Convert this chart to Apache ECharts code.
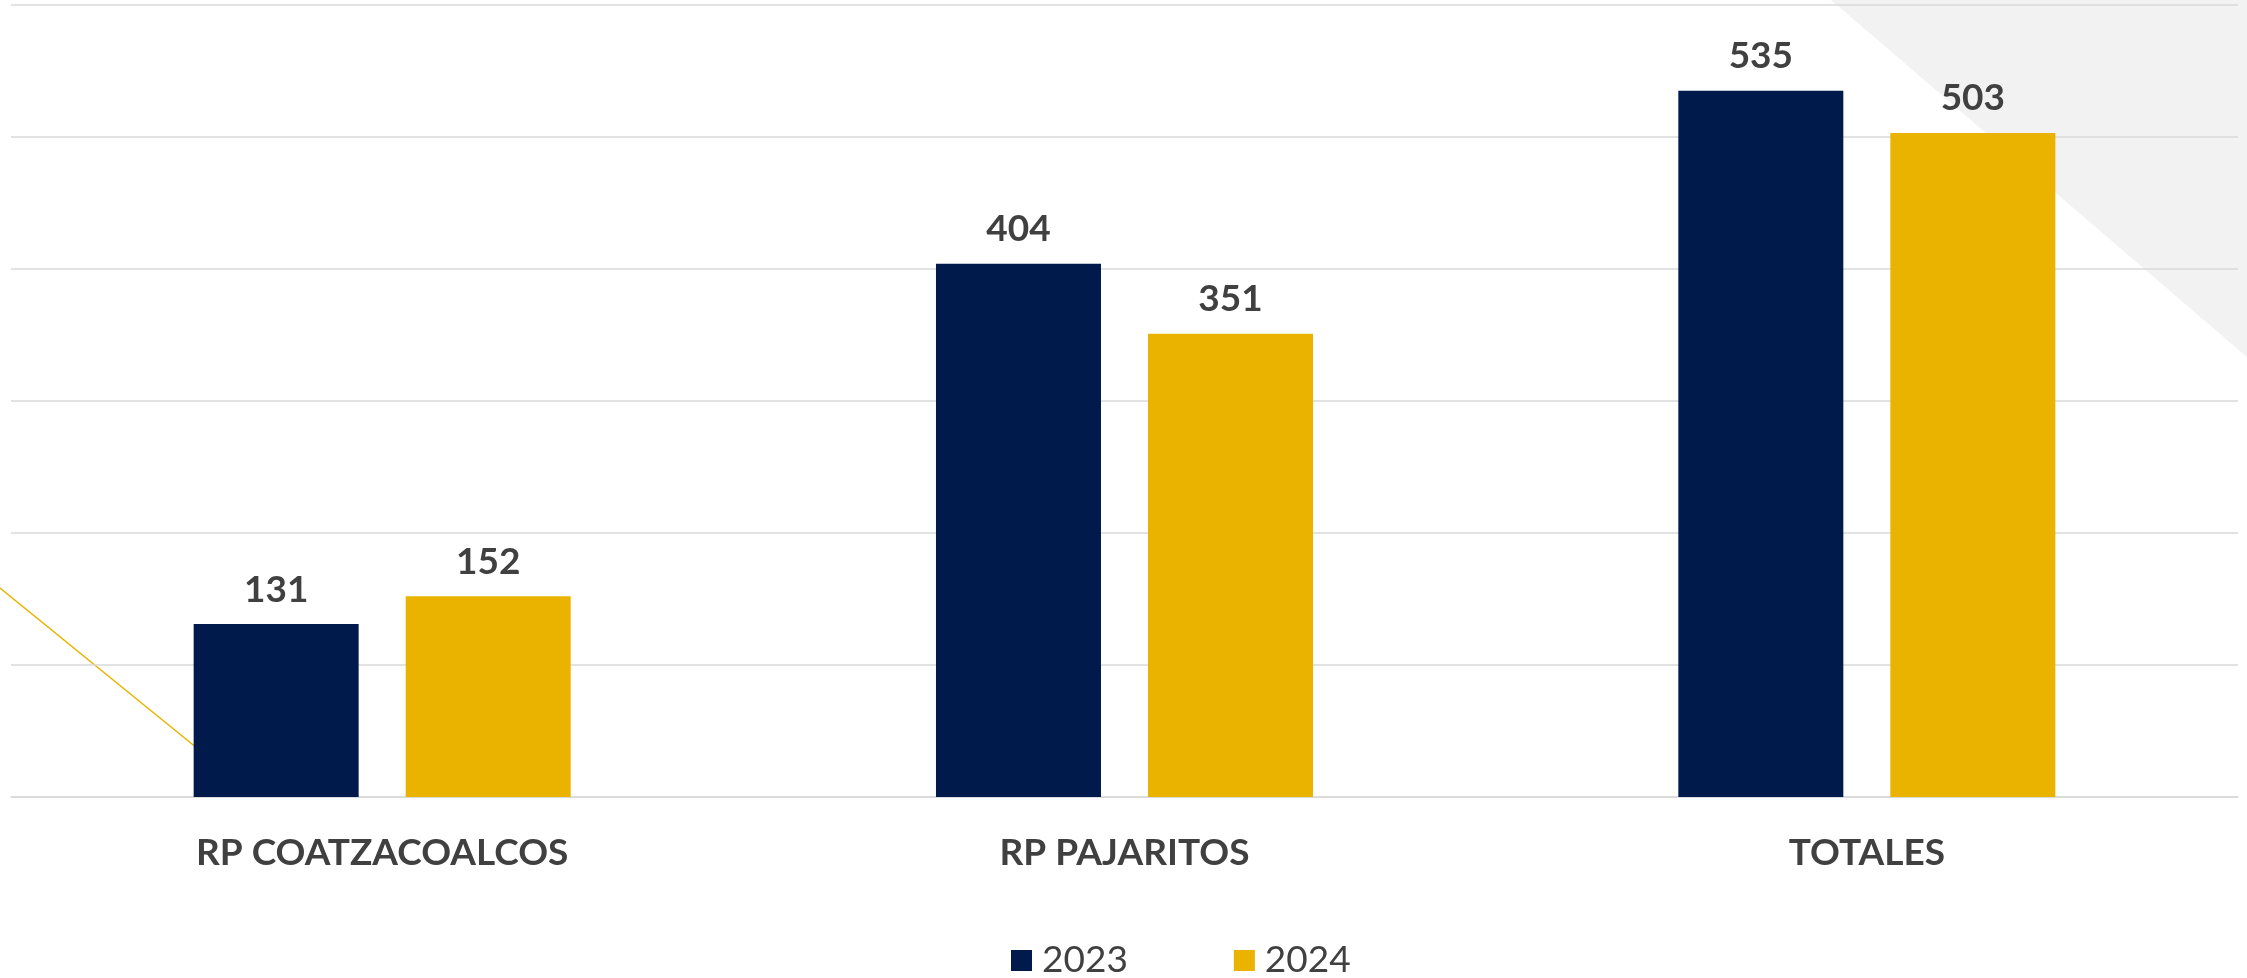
<!DOCTYPE html>
<html>
<head>
<meta charset="utf-8">
<script src="https://cdn.jsdelivr.net/npm/echarts@6/dist/echarts.min.js"></script>
<style>html,body{margin:0;padding:0;background:#fff}#c{width:2247px;height:978px}</style>
</head>
<body>
<div id="c"></div>
<script>
const categories = ['RP COATZACOALCOS', 'RP PAJARITOS', 'TOTALES'];
const seriesNames = ['2023', '2024'];
const values2023 = [131, 404, 535];
const values2024 = [152, 351, 503];

const chart = echarts.init(document.getElementById('c'));
const labelStyle = {
  show: true, position: 'top', distance: 16,
  color: '#404040', fontFamily: 'Lato', fontWeight: 'bold', fontSize: 37
};
chart.setOption({
  backgroundColor: '#ffffff',
  animation: false,
  graphic: [
    { type: 'polygon', z: -10, silent: true,
      shape: { points: [[1831, 0], [2247, 0], [2247, 357]] },
      style: { fill: '#f2f2f2' } },
    { type: 'line', z: -10, silent: true,
      shape: { x1: 0, y1: 588, x2: 240, y2: 783 },
      style: { stroke: '#e8b400', lineWidth: 1.5 } }
  ],
  grid: { left: 11, right: 9, top: 5, bottom: 181, containLabel: false },
  legend: {
    data: seriesNames,
    left: 1006, top: 937,
    itemWidth: 21, itemHeight: 21, itemGap: 106,
    icon: 'rect',
    textStyle: { color: '#404040', fontFamily: 'Lato', fontSize: 37, padding: [0, 0, 0, 5] }
  },
  xAxis: {
    type: 'category', data: categories,
    axisLine: { show: true, lineStyle: { color: '#d9d9d9', width: 1.5 } },
    axisTick: { show: false },
    axisLabel: { color: '#404040', fontFamily: 'Lato', fontWeight: 'bold', fontSize: 37, margin: 38 }
  },
  yAxis: {
    type: 'value', min: 0, max: 600, interval: 100,
    axisLabel: { show: false }, axisLine: { show: false }, axisTick: { show: false },
    splitLine: { lineStyle: { color: '#d9d9d9', width: 1.5 } }
  },
  series: [
    { name: seriesNames[0], type: 'bar', data: values2023, barWidth: 165, barGap: '28.5%',
      itemStyle: { color: '#001a4c' }, label: labelStyle },
    { name: seriesNames[1], type: 'bar', data: values2024, barWidth: 165, barGap: '28.5%',
      itemStyle: { color: '#e9b300' }, label: labelStyle }
  ]
});
</script>
</body>
</html>
